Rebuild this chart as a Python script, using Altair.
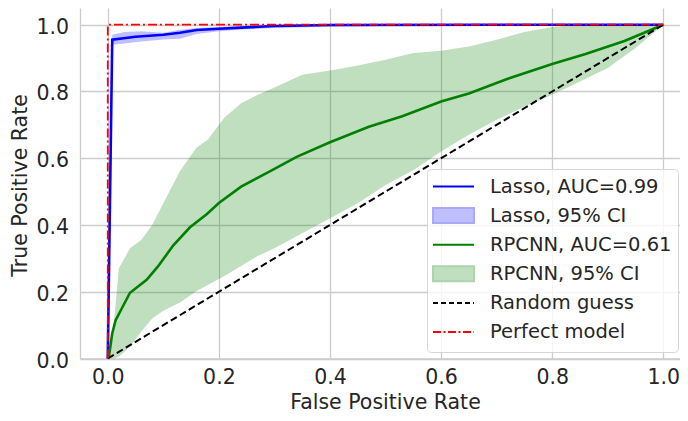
import altair as alt
import pandas as pd

# ---------------- data ----------------
# Lasso mean ROC curve
lasso_fpr = [0.0, 0.008, 0.05, 0.10, 0.13, 0.16, 0.20, 0.25, 0.30, 0.40, 0.70, 1.0]
lasso_tpr = [0.0, 0.955, 0.964, 0.970, 0.976, 0.984, 0.988, 0.992, 0.996, 0.999, 1.0, 1.0]

# Lasso 95% CI band
lasso_ci_fpr = [0.0, 0.008, 0.03, 0.06, 0.10, 0.13, 0.16, 0.20, 0.25, 0.30, 0.40, 0.50, 0.62, 0.70, 1.0]
lasso_ci_lo = [0.0, 0.940, 0.944, 0.950, 0.956, 0.958, 0.972, 0.980, 0.986, 0.990, 0.994, 0.996, 0.998, 1.0, 1.0]
lasso_ci_hi = [0.0, 0.970, 0.978, 0.980, 0.976, 0.985, 0.990, 0.993, 0.996, 0.998, 1.0, 1.0, 1.0, 1.0, 1.0]

# RPCNN mean ROC curve
rpcnn_fpr = [0.0, 0.002, 0.008, 0.014, 0.023, 0.04, 0.07, 0.09, 0.118, 0.148, 0.178, 0.20,
             0.24, 0.29, 0.34, 0.40, 0.47, 0.53, 0.60, 0.65, 0.72, 0.80, 0.86, 0.93, 1.0]
rpcnn_tpr = [0.0, 0.006, 0.075, 0.114, 0.143, 0.197, 0.236, 0.275, 0.339, 0.393, 0.432, 0.466,
             0.515, 0.559, 0.604, 0.648, 0.694, 0.726, 0.770, 0.794, 0.838, 0.882, 0.912, 0.951, 1.0]

# RPCNN 95% CI band
rpcnn_ci_fpr = [0.0, 0.01, 0.02, 0.04, 0.06, 0.08, 0.10, 0.13, 0.16, 0.18, 0.21, 0.24, 0.27, 0.30,
                0.35, 0.40, 0.45, 0.50, 0.55, 0.60, 0.65, 0.70, 0.75, 0.80, 0.85, 0.90, 0.95, 1.0]
rpcnn_ci_lo = [0.0, 0.0, 0.005, 0.036, 0.080, 0.120, 0.143, 0.168, 0.202, 0.220, 0.247, 0.277, 0.307, 0.330,
               0.375, 0.420, 0.465, 0.520, 0.564, 0.620, 0.670, 0.715, 0.755, 0.790, 0.830, 0.870, 0.930, 1.0]
rpcnn_ci_hi = [0.0, 0.090, 0.270, 0.330, 0.355, 0.400, 0.465, 0.562, 0.632, 0.655, 0.722, 0.765, 0.790, 0.812,
               0.850, 0.863, 0.878, 0.895, 0.915, 0.922, 0.935, 0.955, 0.978, 0.993, 1.0, 1.0, 1.0, 1.0]

# reference lines
random_fpr = [0.0, 1.0]
random_tpr = [0.0, 1.0]
perfect_fpr = [0.0, 0.0, 1.0]
perfect_tpr = [0.0, 1.0, 1.0]

legend_labels = ["Lasso, AUC=0.99", "Lasso, 95% CI", "RPCNN, AUC=0.61",
                 "RPCNN, 95% CI", "Random guess", "Perfect model"]
tick_values = [0.0, 0.2, 0.4, 0.6, 0.8, 1.0]

# ---------------- styling ----------------
FONT = "DejaVu Sans"
TXT = "#262626"
BLUE = "#0000ff"
GREEN = "#008000"

# invisible moves give every legend symbol the same bounding box
line_path = "M-2,-0.9M2,0.9M-2,0H2"
rect_path = "M-2,-0.9M2,0.9M-2,-0.73H2V0.73H-2Z"
leg_shapes = [line_path, rect_path, line_path, rect_path, line_path, line_path]
leg_strokes = [BLUE, "#a9a9fb", GREEN, "#acd4ac", "#000000", "#ff0000"]
leg_fills = ["transparent", "#bfbfff", "transparent", "#bfdfbf", "transparent", "transparent"]
leg_dashes = [[1, 0], [1, 0], [1, 0], [1, 0], [5, 3], [8, 2.5, 2, 2.5]]


def df_line(xs, ys):
    return pd.DataFrame({"fpr": xs, "tpr": ys, "i": list(range(len(xs)))})


def df_band(xs, lo, hi):
    return pd.DataFrame({"fpr": xs, "lo": lo, "hi": hi})


X = alt.X(
    "fpr:Q",
    scale=alt.Scale(domain=[-0.05, 1.03], nice=False, zero=False),
    axis=alt.Axis(
        title="False Positive Rate", values=tick_values, format=".1f",
        labelPadding=9.3, labelBaseline="top",
        titleX=305, titleY=49.7, titleAlign="center", titleBaseline="alphabetic",
    ),
)
Y_AXIS = alt.Axis(
    title="True Positive Rate", values=tick_values, format=".1f",
    labelPadding=11.5, labelOffset=2.5,
    titleX=-54, titleY=177, titleAlign="center", titleBaseline="alphabetic", titleAngle=270,
)
Y_SCALE = alt.Scale(domain=[0, 1.05], nice=False, zero=False)


def y_line():
    return alt.Y("tpr:Q", scale=Y_SCALE, axis=Y_AXIS)


band_lasso = alt.Chart(df_band(lasso_ci_fpr, lasso_ci_lo, lasso_ci_hi)).mark_area(
    color=BLUE, opacity=0.25
).encode(x=X, y=alt.Y("lo:Q", scale=Y_SCALE, axis=Y_AXIS), y2="hi:Q")

band_rpcnn = alt.Chart(df_band(rpcnn_ci_fpr, rpcnn_ci_lo, rpcnn_ci_hi)).mark_area(
    color=GREEN, opacity=0.25
).encode(x=X, y=alt.Y("lo:Q", scale=Y_SCALE, axis=Y_AXIS), y2="hi:Q")

line_lasso = alt.Chart(df_line(lasso_fpr, lasso_tpr)).mark_line(
    color=BLUE, strokeWidth=2.6
).encode(x=X, y=y_line(), order="i:Q")

line_rpcnn = alt.Chart(df_line(rpcnn_fpr, rpcnn_tpr)).mark_line(
    color=GREEN, strokeWidth=2.6
).encode(x=X, y=y_line(), order="i:Q")

line_random = alt.Chart(df_line(random_fpr, random_tpr)).mark_line(
    color="#000000", strokeWidth=2, strokeDash=[7, 3.5]
).encode(x=X, y=y_line(), order="i:Q")

line_perfect = alt.Chart(df_line(perfect_fpr, perfect_tpr)).mark_line(
    color="#ff0000", strokeWidth=1.8, strokeDash=[9, 3, 2, 3]
).encode(x=X, y=y_line(), order="i:Q")

legend = alt.Legend(
    title=None, orient="none", legendX=347, legendY=161,
    padding=6, symbolSize=420, symbolStrokeWidth=2, symbolOffset=9,
    labelOffset=25, labelFont=FONT, labelFontSize=19.5, labelColor=TXT,
    labelLimit=400, rowPadding=2.1,
    strokeColor="#d6d6d6", cornerRadius=4, fillColor="rgba(255,255,255,0.8)",
)
leg_df = pd.DataFrame({"series": legend_labels})
legend_layer = alt.Chart(leg_df).mark_point(size=0, opacity=1, filled=True).encode(
    fill=alt.Fill("series:N", scale=alt.Scale(domain=legend_labels, range=leg_fills), legend=legend),
    stroke=alt.Stroke("series:N", scale=alt.Scale(domain=legend_labels, range=leg_strokes), legend=legend),
    shape=alt.Shape("series:N", scale=alt.Scale(domain=legend_labels, range=leg_shapes), legend=legend),
    strokeDash=alt.StrokeDash("series:N", scale=alt.Scale(domain=legend_labels, range=leg_dashes), legend=legend),
)

chart = alt.layer(
    band_lasso, band_rpcnn, line_lasso, line_rpcnn, line_random, line_perfect, legend_layer
).properties(
    width=600, height=350.5,
    autosize=alt.AutoSizeParams(type="none"),
    padding={"left": 72, "top": 0, "right": 0, "bottom": 54.5},
).configure_view(
    strokeWidth=0
).configure_axis(
    grid=True, gridColor="#cccccc", gridWidth=1.3,
    domainColor="#cccccc", domainWidth=1.3,
    ticks=False, tickSize=0,
    labelFont=FONT, labelFontSize=20.5, labelColor=TXT,
    titleFont=FONT, titleFontSize=20.5, titleColor=TXT, titleFontWeight="normal",
)

chart.save("out.html", embed_options={"renderer": "svg", "actions": False})
